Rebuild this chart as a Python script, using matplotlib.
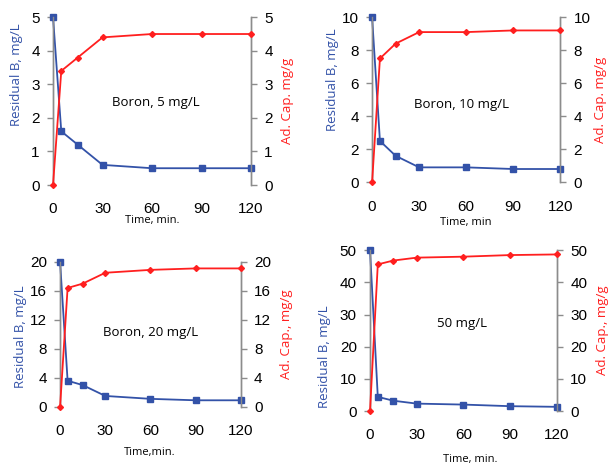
import matplotlib
matplotlib.use("Agg")
import matplotlib.pyplot as plt

# Data

TIME = [0, 5, 15, 30, 60, 90, 120]

RESIDUAL_5 = [5, 1.6, 1.2, 0.6, 0.5, 0.5, 0.5]
ADCAP_5 = [0, 3.4, 3.8, 4.4, 4.5, 4.5, 4.5]

RESIDUAL_10 = [10, 2.5, 1.6, 0.9, 0.9, 0.8, 0.8]
ADCAP_10 = [0, 7.5, 8.4, 9.1, 9.1, 9.2, 9.2]

RESIDUAL_20 = [20, 3.6, 3.0, 1.5, 1.1, 0.9, 0.9]
ADCAP_20 = [0, 16.4, 17.0, 18.5, 18.9, 19.1, 19.1]

RESIDUAL_50 = [50, 4.4, 3.2, 2.3, 2.0, 1.5, 1.3]
ADCAP_50 = [0, 45.6, 46.8, 47.7, 48.0, 48.5, 48.7]

X_TICKS = [0, 30, 60, 90, 120]

BLUE = "#3352a8"
RED = "#ff1f1f"
GRAY = "#8c8c8c"
TICK_FONT = "Liberation Sans"
LABEL_FONT = "Open Sans"


# Postavitev panelov: rect, pozicije oznak osi (axes coords), besedilo

PANELS = [
    dict(rect=[0.0865, 0.603, 0.323, 0.36], res=RESIDUAL_5, cap=ADCAP_5,
         ymax=5, yticks=[0, 1, 2, 3, 4, 5], text="Boron, 5 mg/L", tpos=(62, 2.45),
         xlabel="Time, min.", ylabel="Residual B, mg/L", y2label="Ad. Cap. mg/g",
         xl=(0.5, -0.214), yl=(-0.182, 0.655), y2l=(1.182, 0.5)),
    dict(rect=[0.607, 0.609, 0.307, 0.354], res=RESIDUAL_10, cap=ADCAP_10,
         ymax=10, yticks=[0, 2, 4, 6, 8, 10], text="Boron, 10 mg/L", tpos=(57, 4.7),
         xlabel="Time, min", ylabel="Residual B, mg/L", y2label="Ad. Cap. mg/g",
         xl=(0.5, -0.242), yl=(-0.213, 0.624), y2l=(1.213, 0.5)),
    dict(rect=[0.098, 0.127, 0.295, 0.311], res=RESIDUAL_20, cap=ADCAP_20,
         ymax=20, yticks=[0, 4, 8, 12, 16, 20], text="Boron, 20 mg/L", tpos=(60, 10.2),
         xlabel="Time,min.", ylabel="Residual B, mg/L", y2label="Ad. Cap., mg/g",
         xl=(0.497, -0.317), yl=(-0.221, 0.483), y2l=(1.254, 0.5)),
    dict(rect=[0.6036, 0.118, 0.305, 0.345], res=RESIDUAL_50, cap=ADCAP_50,
         ymax=50, yticks=[0, 10, 20, 30, 40, 50], text="50 mg/L", tpos=(59, 27.3),
         xlabel="Time, min.", ylabel="Residual B, mg/L", y2label="Ad. Cap., mg/g",
         xl=(0.535, -0.304), yl=(-0.241, 0.335), y2l=(1.241, 0.5)),
]


def style_axis(ax):
    for side in ["top", "bottom"]:
        ax.spines[side].set_visible(False)
    for side in ["left", "right"]:
        ax.spines[side].set_color(GRAY)
        ax.spines[side].set_linewidth(1.0)
    ax.tick_params(axis="y", colors=GRAY, labelcolor="black", length=4, width=1,
                   labelsize=11, pad=5.5)
    ax.tick_params(axis="x", length=0, labelsize=11, pad=12.5)
    for label in ax.get_xticklabels() + ax.get_yticklabels():
        label.set_fontfamily(TICK_FONT)


def draw_panel(fig, p):
    ax = fig.add_axes(p["rect"])
    ax2 = ax.twinx()

    ax.plot(TIME, p["res"], color=BLUE, marker="s", markersize=5, linewidth=1.3,
            clip_on=False, zorder=3)
    ax2.plot(TIME, p["cap"], color=RED, marker="D", markersize=3, linewidth=1.3,
             clip_on=False, zorder=3)

    for a in (ax, ax2):
        a.set_xlim(0, 120)
        a.set_ylim(0, p["ymax"])
        a.set_yticks(p["yticks"])
        a.set_xticks(X_TICKS)
        style_axis(a)

    ax.set_xlabel(p["xlabel"], fontsize=8, fontfamily=LABEL_FONT, va="center")
    ax.set_ylabel(p["ylabel"], fontsize=9.5, fontfamily=LABEL_FONT, color=BLUE,
                  va="center")
    ax2.set_ylabel(p["y2label"], fontsize=9.5, fontfamily=LABEL_FONT, color=RED,
                   va="center")
    ax.xaxis.set_label_coords(*p["xl"])
    ax.yaxis.set_label_coords(*p["yl"])
    ax2.yaxis.set_label_coords(*p["y2l"])

    ax.text(p["tpos"][0], p["tpos"][1], p["text"], ha="center", va="center",
            fontsize=9.5, fontfamily=LABEL_FONT)


def main():
    fig = plt.figure(figsize=(6.13, 4.66), dpi=100)
    for p in PANELS:
        draw_panel(fig, p)
    fig.savefig("out.png", dpi=100)


if __name__ == "__main__":
    main()
